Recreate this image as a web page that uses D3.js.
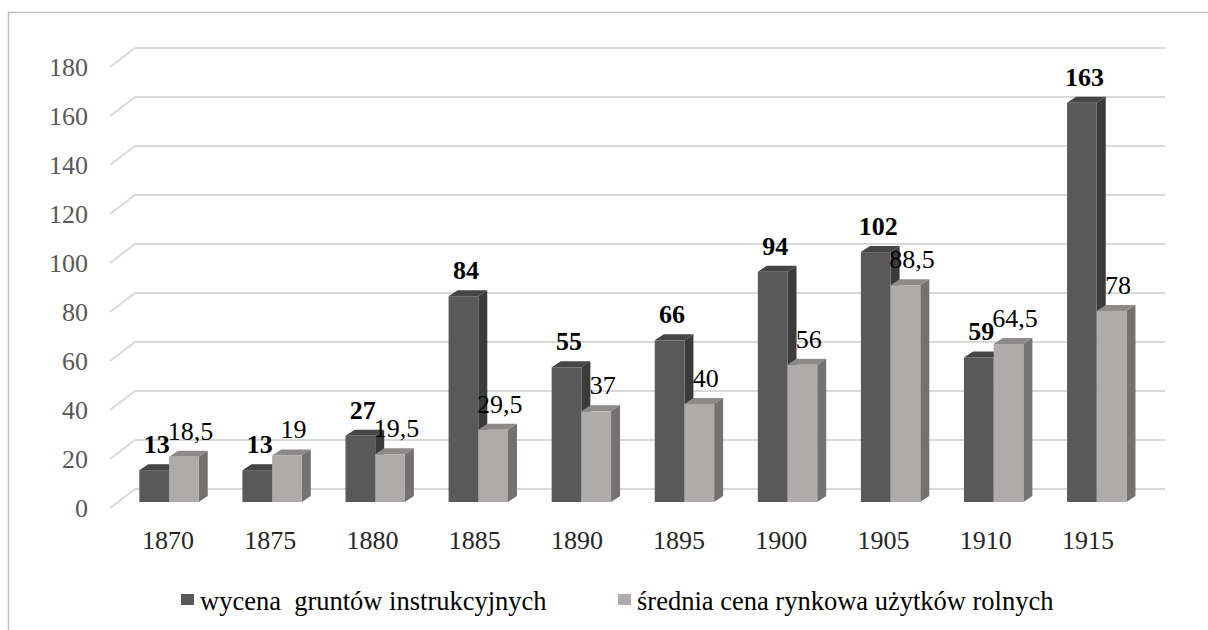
<!DOCTYPE html>
<html>
<head>
<meta charset="utf-8">
<script src="https://cdn.jsdelivr.net/npm/d3@7"></script>
<style>
  body { margin: 0; background: #fff; }
</style>
</head>
<body>
<div id="chart"></div>
<script>
// data
var years = ["1870", "1875", "1880", "1885", "1890", "1895", "1900", "1905", "1910", "1915"];
var wycena = [13, 13, 27, 84, 55, 66, 94, 102, 59, 163];
var srednia = [18.5, 19, 19.5, 29.5, 37, 40, 56, 88.5, 64.5, 78];
var yTicks = [0, 20, 40, 60, 80, 100, 120, 140, 160, 180];
var seriesNames = ["wycena\u00a0 gruntów instrukcyjnych", "średnia cena rynkowa użytków rolnych"];

var width = 1208, height = 630;
var serif = "Liberation Serif";

var svg = d3.select("#chart").append("svg")
  .attr("width", width)
  .attr("height", height)
  .attr("font-family", serif);

// outer frame
svg.append("rect")
  .attr("x", 8.5).attr("y", 12.5)
  .attr("width", width + 20).attr("height", height + 20)
  .attr("fill", "none")
  .attr("stroke", "#bfbfbf")
  .attr("stroke-width", 1.5);

// back wall scales
var xBack = d3.scaleBand().domain(years).range([135, 1165]);
var yBack = d3.scaleLinear().domain([0, 180]).range([489, 48]);
// front plane of bars
var xBar = d3.scaleBand().domain(years).range([117.5, 1148.3]);
var yBar = d3.scaleLinear().domain([0, 180]).range([502, 61]);
var xSeries = d3.scaleBand().domain([0, 1]).range([-29.7, 29.7]);
// front edge of the floor (labels)
var yFront = d3.scaleLinear().domain([0, 180]).range([508, 67]);
var xLabel = d3.scaleBand().domain(years).range([116.9, 1139.1]);

var depthX = 9, depthY = -6;

// gridlines
var grid = svg.append("g").attr("class", "grid");
grid.selectAll("path")
  .data(yTicks)
  .enter().append("path")
  .attr("d", function (d) {
    return "M110," + yFront(d) + "L" + xBack.range()[0] + "," + yBack(d) + "L" + xBack.range()[1] + "," + yBack(d);
  })
  .attr("fill", "none")
  .attr("stroke", "#d9d9d9")
  .attr("stroke-width", 2);

// y axis labels
var yAxis = svg.append("g")
  .attr("transform", "translate(88,0)")
  .call(d3.axisLeft(yFront).tickValues(yTicks).tickSize(0).tickPadding(0))
  .attr("font-family", serif)
  .attr("font-size", 26);
yAxis.select(".domain").remove();
yAxis.selectAll("text")
  .attr("font-family", serif)
  .attr("fill", "#595959");

// x axis labels
var xAxis = svg.append("g")
  .attr("transform", "translate(0,531)")
  .call(d3.axisBottom(xLabel).tickSize(0).tickPadding(0))
  .attr("font-family", serif)
  .attr("font-size", 26);
xAxis.select(".domain").remove();
xAxis.selectAll("text")
  .attr("font-family", serif)
  .attr("fill", "#262626");

var colors = [
  { front: "#595959", top: "#464646", side: "#3b3b3b" },
  { front: "#afabab", top: "#8e8a8a", side: "#767171" }
];

var bars = [];
years.forEach(function (y, i) {
  bars.push({ year: y, s: 0, value: wycena[i] });
  bars.push({ year: y, s: 1, value: srednia[i] });
});

function barLeft(d) { return xBar(d.year) + xBar.bandwidth() / 2 + xSeries(d.s); }
function barRight(d) { return barLeft(d) + xSeries.bandwidth(); }

var barG = svg.append("g").selectAll("g")
  .data(bars)
  .enter().append("g");

// top face
barG.append("path")
  .attr("d", function (d) {
    var l = barLeft(d), r = barRight(d), t = yBar(d.value);
    return "M" + l + "," + t + "L" + (l + depthX) + "," + (t + depthY) + "L" + (r + depthX) + "," + (t + depthY) + "L" + r + "," + t + "Z";
  })
  .attr("fill", function (d) { return colors[d.s].top; });

// side face
barG.append("path")
  .attr("d", function (d) {
    var r = barRight(d), t = yBar(d.value), b = yBar(0);
    return "M" + r + "," + t + "L" + (r + depthX) + "," + (t + depthY) + "L" + (r + depthX) + "," + (b + depthY) + "L" + r + "," + b + "Z";
  })
  .attr("fill", function (d) { return colors[d.s].side; });

// front face
barG.append("rect")
  .attr("x", barLeft)
  .attr("y", function (d) { return yBar(d.value); })
  .attr("width", xSeries.bandwidth())
  .attr("height", function (d) { return yBar(0) - yBar(d.value); })
  .attr("fill", function (d) { return colors[d.s].front; });

// value labels
svg.append("g").selectAll("text")
  .data(bars)
  .enter().append("text")
  .attr("x", function (d) { return barLeft(d) + xSeries.bandwidth() / 2 + depthX / 2 + (d.s == 1 ? 2 : -2); })
  .attr("y", function (d) { return yBar(d.value) + depthY - 11; })
  .attr("text-anchor", "middle")
  .attr("font-family", serif)
  .attr("font-size", 26)
  .attr("font-weight", function (d) { return d.s == 0 ? "bold" : "normal"; })
  .attr("fill", "#000")
  .text(function (d) { return String(d.value).replace(".", ","); });

// legend
var legendX = [181, 618];
var legend = svg.append("g").selectAll("g")
  .data(seriesNames)
  .enter().append("g")
  .attr("transform", function (d, i) { return "translate(" + legendX[i] + ",594)"; });

legend.append("rect")
  .attr("width", 13)
  .attr("height", 11)
  .attr("fill", function (d, i) { return colors[i].front; });

legend.append("text")
  .attr("x", 19)
  .attr("y", 16)
  .attr("font-family", serif)
  .attr("font-size", 26.5)
  .attr("fill", "#000")
  .text(function (d) { return d; });
</script>
</body>
</html>
